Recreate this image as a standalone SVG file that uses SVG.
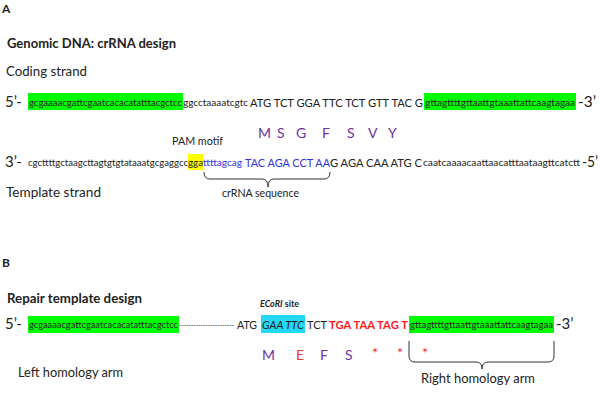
<svg xmlns="http://www.w3.org/2000/svg" width="600" height="400" viewBox="0 0 600 400">
<style>
text{font-family:Lato,"Open Sans","Liberation Sans",sans-serif;fill:#222}
.big{font-size:15px}
.sm{font-size:9px}
.cod{font-size:11.5px}
.aa{font-size:14px;fill:#7030a0}
.lab{font-size:13.5px}
.note{font-size:11px}
.ttl{font-size:13px;font-weight:bold}
.blue{fill:#3333e0}
.red{fill:#ff1a1a}
.br{fill:none;stroke:#333;stroke-width:1}
</style>
<rect width="600" height="400" fill="#fff"/>
<g id="panelA">
<text x="2" y="13" class="ttl" style="font-size:12px">A</text>
<text x="7" y="48" class="ttl" textLength="169" lengthAdjust="spacingAndGlyphs">Genomic DNA: crRNA design</text>
<text x="6" y="76" class="lab" textLength="81" lengthAdjust="spacingAndGlyphs">Coding strand</text>
</g>
<g id="coding-strand">
<text x="5" y="107" class="big">5’-</text>
<rect x="28" y="93" width="155" height="17" fill="#00ff00"/>
<text x="29" y="106" class="sm" textLength="153" lengthAdjust="spacingAndGlyphs">gcgaaaacgattcgaatcacacatatttacgctcc</text>
<text x="183" y="106" class="sm" textLength="65" lengthAdjust="spacingAndGlyphs">ggcctaaaatcgtc</text>
<text x="250" y="107" class="cod" textLength="173" lengthAdjust="spacingAndGlyphs">ATG TCT GGA TTC TCT GTT TAC G</text>
<rect x="424" y="93" width="152" height="17" fill="#00ff00"/>
<text x="425" y="106" class="sm" textLength="150" lengthAdjust="spacingAndGlyphs">gttagttttgttaattgtaaattattcaagtagaa</text>
<text x="578" y="107" class="big" textLength="18" lengthAdjust="spacingAndGlyphs">-3’</text>
</g>
<g id="protein-A">
<text x="258" y="138" class="aa">M</text>
<text x="277" y="138" class="aa">S</text>
<text x="296" y="138" class="aa">G</text>
<text x="322" y="138" class="aa">F</text>
<text x="347" y="138" class="aa">S</text>
<text x="368" y="138" class="aa">V</text>
<text x="388" y="138" class="aa">Y</text>
</g>
<g id="pam-label">
<text x="172" y="145" class="note" textLength="51" lengthAdjust="spacingAndGlyphs">PAM motif</text>
</g>
<g id="template-strand">
<text x="5" y="167" class="big">3’-</text>
<text x="28" y="166" class="sm" textLength="160" lengthAdjust="spacingAndGlyphs">cgcttttgctaagcttagtgtgtataaatgcgaggcc</text>
<rect x="188" y="154" width="15" height="16" fill="#ffff00"/>
<text x="188" y="166" class="sm" textLength="15" lengthAdjust="spacingAndGlyphs">gga</text>
<text x="203" y="166" class="sm blue" textLength="39" lengthAdjust="spacingAndGlyphs">ttttagcag</text>
<text x="245" y="167" class="cod blue" textLength="85" lengthAdjust="spacingAndGlyphs">TAC AGA CCT AA</text>
<text x="330" y="167" class="cod" textLength="92" lengthAdjust="spacingAndGlyphs">G AGA CAA ATG C</text>
<text x="423" y="166" class="sm" textLength="157" lengthAdjust="spacingAndGlyphs">caatcaaaacaattaacatttaataagttcatctt</text>
<text x="582" y="167" class="big" textLength="16" lengthAdjust="spacingAndGlyphs">-5’</text>
</g>
<g id="crRNA-label">
<text x="222" y="197" class="note" textLength="77" lengthAdjust="spacingAndGlyphs">crRNA sequence</text>
</g>
<g id="template-label">
<text x="6" y="197" class="lab" textLength="95" lengthAdjust="spacingAndGlyphs">Template strand</text>
</g>
<g id="panelB">
<text x="2" y="267" class="ttl" style="font-size:12px">B</text>
<text x="7" y="303" class="ttl" textLength="135" lengthAdjust="spacingAndGlyphs">Repair template design</text>
<text x="260" y="307" class="ttl" style="font-size:10px" textLength="39" lengthAdjust="spacingAndGlyphs"><tspan font-style="italic">ECoRI</tspan> site</text>
</g>
<g id="repair-template">
<text x="5" y="329" class="big">5’-</text>
<rect x="28" y="316" width="151" height="17" fill="#00ff00"/>
<text x="29" y="328" class="sm" textLength="149" lengthAdjust="spacingAndGlyphs">gcgaaaacgattcgaatcacacatatttacgctcc</text>
<text x="179" y="328" class="sm" style="fill:#555" textLength="55" lengthAdjust="spacingAndGlyphs">-----------------------</text>
<text x="237" y="329" class="cod" textLength="20" lengthAdjust="spacingAndGlyphs">ATG</text>
<rect x="261" y="315" width="44" height="18" fill="#22d8f5"/>
<text x="262" y="329" class="cod" font-style="italic" textLength="42" lengthAdjust="spacingAndGlyphs">GAA TTC</text>
<text x="307" y="329" class="cod" textLength="20" lengthAdjust="spacingAndGlyphs">TCT</text>
<text x="329" y="329" class="cod red" font-weight="bold" textLength="79" lengthAdjust="spacingAndGlyphs">TGA TAA TAG T</text>
<rect x="409" y="316" width="145" height="17" fill="#00ff00"/>
<text x="410" y="328" class="sm" textLength="143" lengthAdjust="spacingAndGlyphs">gttagttttgttaattgtaaattattcaagtagaa</text>
<text x="556" y="329" class="big">-3’</text>
</g>
<g id="protein-B">
<text x="262" y="360" class="aa">M</text>
<text x="296" y="360" class="aa" style="fill:#e8333a">E</text>
<text x="320" y="360" class="aa">F</text>
<text x="345" y="360" class="aa">S</text>
<text x="372" y="358" class="aa red">*</text>
<text x="397" y="358" class="aa red">*</text>
<text x="422" y="358" class="aa red">*</text>
</g>
<g id="left-arm-label">
<text x="18" y="377" class="lab" textLength="105" lengthAdjust="spacingAndGlyphs">Left homology arm</text>
</g>
<g id="right-arm-label">
<text x="421" y="383" class="lab" textLength="114" lengthAdjust="spacingAndGlyphs">Right homology arm</text>
</g>
<g id="connectors">
<path class="br" d="M204,172 Q204,179 210,179 L262,179 Q268,179 268,187 Q268,179 274,179 L324,179 Q330,179 330,172"/>
<path class="br" d="M409,341 L409,356 Q409,362 415,362 L476,362 Q482,362 482,369 Q482,362 488,362 L548,362 Q554,362 554,356 L554,341"/>
</g>
</svg>
